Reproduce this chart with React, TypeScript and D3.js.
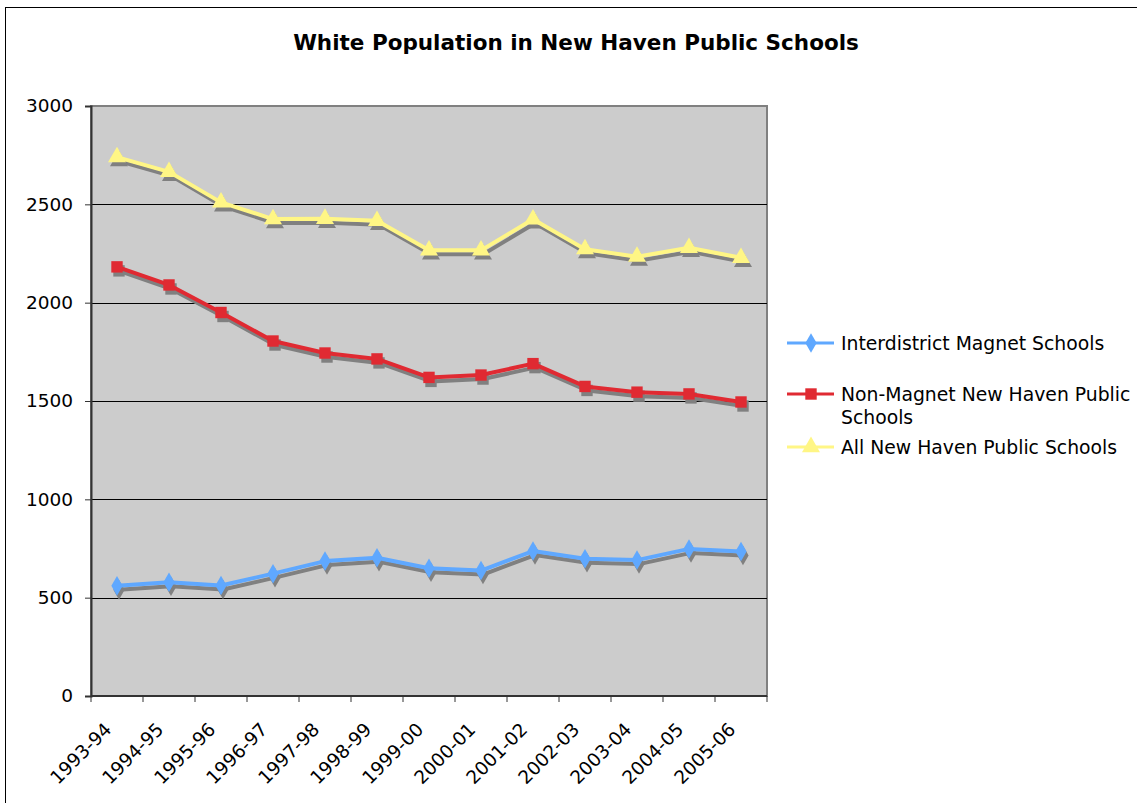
import { useEffect, useRef } from "react";
import * as d3 from "d3";

const years = [
  "1993-94", "1994-95", "1995-96", "1996-97", "1997-98", "1998-99", "1999-00",
  "2000-01", "2001-02", "2002-03", "2003-04", "2004-05", "2005-06",
];

const magnet = [560, 578, 562, 622, 686, 703, 650, 638, 737, 698, 691, 748, 735];
const nonMagnet = [2182, 2090, 1950, 1805, 1744, 1714, 1620, 1632, 1690, 1574, 1545, 1536, 1495];
const allSchools = [2740, 2665, 2510, 2425, 2427, 2416, 2266, 2266, 2424, 2272, 2234, 2279, 2228];

const yTicks = [0, 500, 1000, 1500, 2000, 2500, 3000];

type Series = {
  name: string[];
  values: number[];
  color: string;
  marker: "diamond" | "square" | "triangle";
};

const series: Series[] = [
  { name: ["Interdistrict Magnet Schools"], values: magnet, color: "#5fa8ff", marker: "diamond" },
  { name: ["Non-Magnet New Haven Public", "Schools"], values: nonMagnet, color: "#e02a32", marker: "square" },
  { name: ["All New Haven Public Schools"], values: allSchools, color: "#fff685", marker: "triangle" },
];

const App = () => {
  const svgRef = useRef<SVGSVGElement | null>(null);

  useEffect(() => {
    if (!svgRef.current) return;
    const font = "Verdana, 'DejaVu Sans', sans-serif";

    const svg = d3.select(svgRef.current);
    svg.selectAll("*").remove();

    // 外框
    svg.append("rect")
      .attr("x", 5.5).attr("y", 7.5)
      .attr("width", 1200).attr("height", 900)
      .attr("fill", "#fff").attr("stroke", "#000").attr("stroke-width", 1);

    // 標題
    svg.append("text")
      .attr("x", 576).attr("y", 50)
      .attr("text-anchor", "middle")
      .attr("font-family", font).attr("font-weight", "bold").attr("font-size", 21.5)
      .text("White Population in New Haven Public Schools");

    const left = 91, right = 767, top = 106, bottom = 696;

    const x = d3.scaleBand().domain(years).range([left, right]);
    const y = d3.scaleLinear().domain([0, 3000]).range([bottom, top]);

    // 繪圖區
    svg.append("rect")
      .attr("x", left).attr("y", top)
      .attr("width", right - left).attr("height", bottom - top)
      .attr("fill", "#cccccc").attr("stroke", "#808080").attr("stroke-width", 2);

    // 格線
    svg.append("g")
      .selectAll("line")
      .data(yTicks.filter((t) => t > 0 && t < 3000))
      .join("line")
      .attr("x1", left).attr("x2", right)
      .attr("y1", (d) => Math.round(y(d)) + 0.5).attr("y2", (d) => Math.round(y(d)) + 0.5)
      .attr("stroke", "#000").attr("stroke-width", 1);

    // y軸
    const yAxis = svg.append("g")
      .attr("transform", `translate(${left},0)`)
      .call(d3.axisLeft(y).tickValues(yTicks).tickSize(6).tickPadding(12).tickFormat(d3.format("d")));
    yAxis.select(".domain").attr("stroke", "#333").attr("stroke-width", 2);
    yAxis.selectAll(".tick line").attr("stroke", "#333");
    yAxis.selectAll("text").attr("font-family", font).attr("font-size", 18.5).attr("fill", "#000");

    // x軸
    const boundaries = years.map((d) => x(d) as number).concat([right]);
    const xg = svg.append("g");
    xg.append("line")
      .attr("x1", left).attr("x2", right)
      .attr("y1", bottom).attr("y2", bottom)
      .attr("stroke", "#333").attr("stroke-width", 2);
    xg.selectAll("line.tick")
      .data(boundaries)
      .join("line")
      .attr("class", "tick")
      .attr("x1", (d) => d).attr("x2", (d) => d)
      .attr("y1", bottom).attr("y2", bottom + 6)
      .attr("stroke", "#333");
    xg.selectAll("text")
      .data(years)
      .join("text")
      .attr("transform", (d) => `translate(${(x(d) as number) + x.bandwidth() / 2 - 9},${bottom + 30}) rotate(-45)`)
      .attr("text-anchor", "end")
      .attr("dy", "0.35em")
      .attr("font-family", font).attr("font-size", 18.5)
      .text((d) => d);

    const cx = (i: number) => (x(years[i]) as number) + x.bandwidth() / 2;

    const markerPath = (m: Series["marker"]) => {
      if (m === "diamond") return d3.symbol(d3.symbolDiamond, 110)();
      if (m === "square") return d3.symbol(d3.symbolSquare, 130)();
      return d3.symbol(d3.symbolTriangle, 140)();
    };

    const line = d3.line<number>().x((_, i) => cx(i)).y((d) => y(d));

    // 陰影 + 線
    series.forEach((s) => {
      const g = svg.append("g");
      const sh = g.append("g").attr("transform", "translate(2,4)");
      sh.append("path").datum(s.values)
        .attr("d", line).attr("fill", "none")
        .attr("stroke", "#808080").attr("stroke-width", 4).attr("stroke-linejoin", "round");
      sh.selectAll("path.m").data(s.values).join("path").attr("class", "m")
        .attr("d", markerPath(s.marker))
        .attr("transform", (d, i) => `translate(${cx(i)},${y(d)})`)
        .attr("fill", "#808080");
      g.append("path").datum(s.values)
        .attr("d", line).attr("fill", "none")
        .attr("stroke", s.color).attr("stroke-width", 4).attr("stroke-linejoin", "round");
      g.selectAll("path.m2").data(s.values).join("path").attr("class", "m2")
        .attr("d", markerPath(s.marker))
        .attr("transform", (d, i) => `translate(${cx(i)},${y(d)})`)
        .attr("fill", s.color);
    });

    // 圖例
    const legendY = [343, 394, 447];
    series.forEach((s, i) => {
      const g = svg.append("g").attr("transform", `translate(0,${legendY[i]})`);
      g.append("line").attr("x1", 787).attr("x2", 834).attr("y1", 0).attr("y2", 0)
        .attr("stroke", s.color).attr("stroke-width", 3);
      g.append("path").attr("d", markerPath(s.marker))
        .attr("transform", "translate(811,0)").attr("fill", s.color);
      s.name.forEach((n, j) => {
        g.append("text")
          .attr("x", 841).attr("y", j * 23).attr("dy", "0.35em")
          .attr("font-family", font).attr("font-size", 18.8)
          .text(n);
      });
    });
  }, []);

  return (
    <svg
      ref={svgRef}
      width={1137}
      height={803}
      style={{ position: "absolute", left: 0, top: 0, background: "#fff" }}
    />
  );
};

export default App;
